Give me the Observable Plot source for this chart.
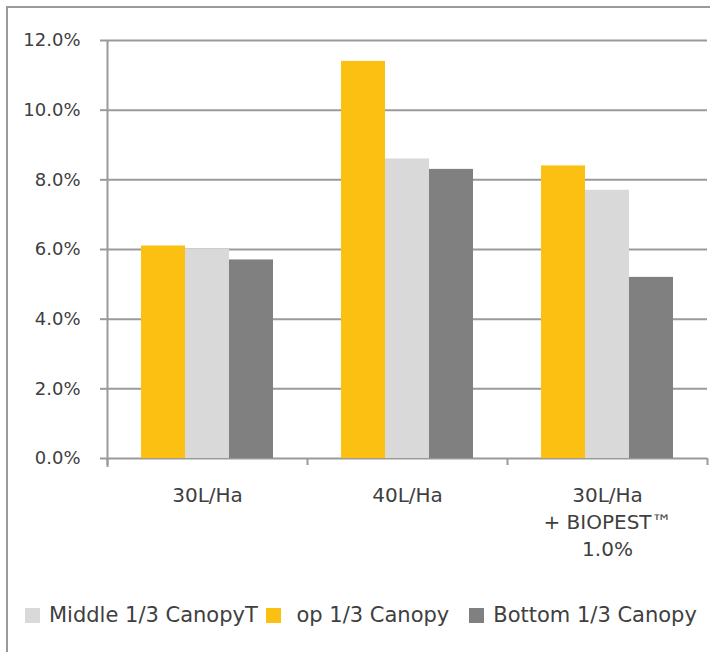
<!DOCTYPE html>
<html><head><meta charset="utf-8">
<script src="https://cdn.jsdelivr.net/npm/d3@7"></script>
<script src="https://cdn.jsdelivr.net/npm/@observablehq/plot@0.6"></script>
<style>
html,body{margin:0;padding:0;background:#fff;overflow:hidden;width:710px;height:652px;}
body{font-family:"DejaVu Sans",sans-serif;color:#404040;position:relative;}
#frame{position:absolute;left:6px;top:6px;width:760px;height:760px;border:2px solid #9a9a9a;box-sizing:border-box;pointer-events:none;}
#chart svg{display:block;}
.legend{position:absolute;top:603px;left:25px;display:flex;align-items:center;font-size:21px;line-height:24px;white-space:pre;}
.item{display:flex;align-items:center;}
.sw{width:15px;height:15px;display:inline-block;margin-right:9px;}
</style></head><body>
<div id="chart"></div><div class="legend" id="legend"></div><div id="frame"></div>
<script>
const categories = ["30L/Ha", "40L/Ha", "30L/Ha\n+ BIOPEST™\n1.0%"];
const series = ["Top 1/3 Canopy", "Middle 1/3 Canopy", "Bottom 1/3 Canopy"];
const topValues = [6.1, 11.4, 8.4];
const middleValues = [6.0, 8.6, 7.7];
const bottomValues = [5.7, 8.3, 5.2];
const seriesColors = ["#FCC013", "#D9D9D9", "#7F807F"];
const yTicks = [0, 2, 4, 6, 8, 10, 12];
const legendLabels = ["Middle 1/3 CanopyT", " op 1/3 Canopy", "Bottom 1/3 Canopy"];
const legendColors = ["#D9D9D9", "#FCC013", "#7F807F"];

const seriesValues = [topValues, middleValues, bottomValues];
const data = [];
categories.forEach((c, i) => series.forEach((s, j) => data.push({category: c, series: s, value: seriesValues[j][i]})));

const W = 710, H = 570, mL = 107, mR = 3, mT = 40, mB = 112;
const halfBand = (W - mL - mR) / categories.length / 2;
const gray = "#9a9a9a";

const plot = Plot.plot({
  width: W, height: H,
  marginLeft: mL, marginRight: mR, marginTop: mT, marginBottom: mB,
  style: {fontFamily: "DejaVu Sans", color: "#404040", background: "none", overflow: "visible"},
  fx: {domain: categories, padding: 0, label: null},
  x: {domain: series, paddingInner: 0, paddingOuter: 0.74, axis: null, label: null},
  y: {domain: [0, 12], label: null},
  color: {domain: series, range: seriesColors},
  marks: [
    Plot.gridY(yTicks, {stroke: gray, strokeOpacity: 1, strokeWidth: 2}),
    Plot.barY(data, {fx: "category", x: "series", y: "value", fill: "series", inset: 0}),
    Plot.ruleX([categories[0]], {fx: d => d, x: null, dx: -halfBand, insetBottom: -9, stroke: gray, strokeWidth: 2}),
    Plot.ruleX(categories, {fx: d => d, x: null, dx: -halfBand, y1: 0, y2: 0, insetBottom: -7, stroke: gray, strokeWidth: 2}),
    Plot.ruleX([categories[categories.length - 1]], {fx: d => d, x: null, dx: halfBand, y1: 0, y2: 0, insetBottom: -7, stroke: gray, strokeWidth: 2}),
    Plot.axisY({ticks: yTicks, tickSize: 7, tickPadding: 20, stroke: gray, strokeWidth: 2, fontSize: 18, fill: "#404040", tickFormat: d => d.toFixed(1) + "%", label: null}),
    Plot.axisFx({anchor: "bottom", tickSize: 0, tickPadding: 25, fontSize: 20, lineHeight: 1.33, fill: "#404040", label: null})
  ]
});
document.getElementById("chart").appendChild(plot);

const gaps = [8, 20, 0];
const lg = document.getElementById("legend");
legendLabels.forEach((t, i) => {
  const it = document.createElement("div");
  it.className = "item";
  it.style.marginRight = gaps[i] + "px";
  const sw = document.createElement("span");
  sw.className = "sw";
  sw.style.background = legendColors[i];
  const tx = document.createElement("span");
  tx.textContent = t;
  it.appendChild(sw); it.appendChild(tx);
  lg.appendChild(it);
});
</script>
</body></html>
